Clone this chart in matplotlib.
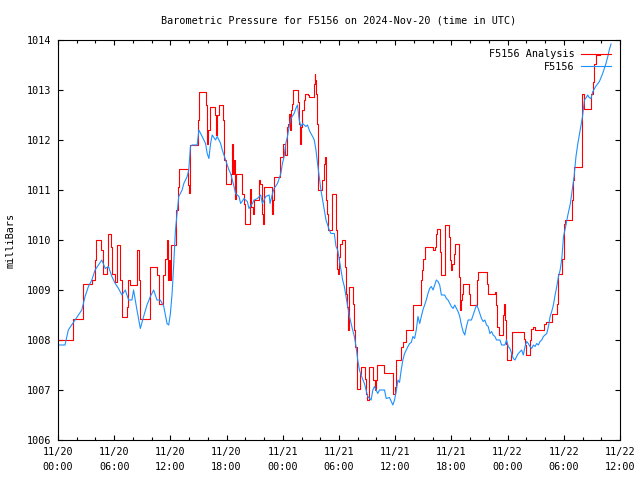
import numpy as np
import matplotlib
matplotlib.use("Agg")
import matplotlib.pyplot as plt
from matplotlib.ticker import MultipleLocator

# F5156 station readings (hours since 2024-11-20 00:00 UTC, millibars)
station_hours = [
    0.0, 0.75, 1.1, 1.82, 2.54, 2.89, 3.25, 3.61, 3.96, 4.32, 4.68, 5.04, 5.39, 5.75,
    6.11, 6.46, 6.82, 7.18, 7.54, 7.89, 8.07, 8.43, 8.79, 9.14, 9.5, 9.86, 10.21, 10.57,
    10.93, 11.29, 11.64, 11.82, 12.0, 12.18, 12.36, 12.54, 12.71, 12.89, 13.25, 13.43,
    13.79, 13.96, 14.14, 14.32, 14.86, 15.04, 15.39, 15.75, 15.93, 16.11, 16.29, 16.46,
    16.82, 17.0, 17.36, 17.54, 17.89, 18.25, 18.43, 18.79, 18.96, 19.32, 19.5, 19.86,
    20.21, 20.39, 20.75, 20.93, 21.29, 21.64, 21.82, 22.18, 22.54, 22.64, 22.9, 23.07,
    23.43, 23.79, 23.96, 24.14, 24.32, 24.5, 24.68, 24.86, 25.21, 25.39, 25.57, 25.75,
    25.93, 26.11, 26.46, 26.64, 26.82, 27.0, 27.18, 27.36, 27.54, 27.71, 27.89, 28.07,
    28.25, 28.43, 28.61, 28.96, 29.14, 29.5, 29.68, 29.86, 30.04, 30.21, 30.39, 30.57,
    30.75, 30.93, 31.11, 31.29, 31.46, 31.64, 31.82, 32.0, 32.18, 32.36, 32.71, 32.89,
    33.07, 33.43, 33.61, 33.79, 34.14, 34.32, 34.86, 35.04, 35.39, 35.75, 35.93, 36.11,
    36.29, 36.46, 36.64, 36.82, 37.0, 37.18, 37.36, 37.54, 37.71, 37.89, 38.07, 38.25,
    38.43, 38.61, 38.79, 38.96, 39.14, 39.32, 39.5, 39.68, 39.86, 40.04, 40.21, 40.39,
    40.57, 40.75, 40.93, 41.29, 41.46, 41.64, 42.0, 42.18, 42.36, 42.54, 42.71, 42.89,
    43.07, 43.25, 43.43, 43.61, 43.79, 44.14, 44.32, 44.5, 44.68, 44.86, 45.04, 45.21,
    45.39, 45.57, 45.75, 45.93, 46.11, 46.29, 46.46, 46.64, 46.82, 47.18, 47.36, 47.71,
    47.89, 48.07, 48.25, 48.43, 48.61, 48.79, 48.96, 49.14, 49.5, 49.68, 49.86, 50.04,
    50.21, 50.39, 50.57, 50.75, 50.93, 51.11, 51.29, 51.46, 51.64, 51.82, 52.0, 52.18,
    52.36, 52.54, 52.71, 52.89, 53.07, 53.25, 53.43, 53.61, 53.79, 53.97, 54.2, 54.4,
    54.7, 54.9, 55.1, 55.3, 55.5, 55.75, 56.0, 56.2, 56.4, 56.55, 56.7, 56.9, 57.1,
    57.4, 57.8, 58.15, 58.5, 58.7, 58.85, 59.04,
]
station_mbar = [
    1007.9, 1007.9, 1008.2, 1008.4, 1008.6, 1008.87, 1009.07, 1009.2, 1009.4, 1009.5, 1009.6, 1009.43, 1009.47, 1009.27,
    1009.13, 1009.03, 1008.9, 1009.0, 1008.8, 1008.8, 1009.0, 1008.6, 1008.23, 1008.47, 1008.7, 1008.87, 1009.0, 1008.8,
    1008.8, 1008.67, 1008.33, 1008.3, 1008.53, 1008.93, 1009.53, 1010.2, 1010.53, 1010.87, 1011.0, 1011.13,
    1011.27, 1011.4, 1011.87, 1011.9, 1011.9, 1012.2, 1012.07, 1011.93, 1011.73, 1011.63, 1011.93, 1012.1,
    1012.0, 1012.07, 1011.93, 1011.8, 1011.6, 1011.4, 1011.33, 1011.07, 1010.93, 1010.87, 1010.73, 1010.83,
    1010.77, 1010.63, 1010.73, 1010.8, 1010.83, 1010.9, 1010.73, 1010.87, 1010.9, 1010.73, 1010.93, 1011.03,
    1011.13, 1011.33, 1011.53, 1011.67, 1011.93, 1012.07, 1012.27, 1012.43, 1012.53, 1012.63, 1012.7, 1012.4,
    1012.27, 1012.33, 1012.27, 1012.3, 1012.2, 1012.13, 1012.07, 1012.0, 1011.8, 1011.53, 1011.27, 1011.0,
    1010.8, 1010.6, 1010.4, 1010.2, 1010.13, 1010.13, 1009.87, 1009.8, 1009.6, 1009.4, 1009.2, 1009.07,
    1008.87, 1008.67, 1008.47, 1008.33, 1008.2, 1008.07, 1007.87, 1007.6, 1007.4, 1007.3, 1007.13, 1007.0,
    1006.87, 1006.8, 1007.0, 1007.07, 1006.93, 1007.0, 1007.0, 1006.83, 1006.85, 1006.7, 1006.8, 1006.97,
    1007.2, 1007.15, 1007.4, 1007.6, 1007.73, 1007.8, 1007.87, 1007.93, 1007.95, 1008.07, 1008.03, 1008.2,
    1008.47, 1008.33, 1008.47, 1008.6, 1008.7, 1008.8, 1008.93, 1009.03, 1009.07, 1009.0, 1009.1, 1009.2,
    1009.17, 1009.1, 1008.9, 1008.9, 1008.83, 1008.8, 1008.67, 1008.63, 1008.7, 1008.63, 1008.57, 1008.47,
    1008.3, 1008.17, 1008.1, 1008.27, 1008.4, 1008.4, 1008.5, 1008.6, 1008.7, 1008.63, 1008.53, 1008.43,
    1008.37, 1008.4, 1008.3, 1008.27, 1008.13, 1008.17, 1008.1, 1008.07, 1008.0, 1008.0, 1007.9, 1007.9,
    1008.0, 1007.87, 1007.83, 1007.73, 1007.63, 1007.6, 1007.67, 1007.73, 1007.8, 1007.7, 1007.87, 1007.97,
    1007.93, 1007.87, 1007.83, 1007.9, 1007.87, 1007.93, 1007.9, 1007.97, 1008.0, 1008.07, 1008.1, 1008.13,
    1008.27, 1008.47, 1008.57, 1008.7, 1008.9, 1009.07, 1009.27, 1009.4, 1009.63, 1010.07, 1010.27, 1010.47,
    1010.73, 1011.0, 1011.27, 1011.67, 1011.93, 1012.2, 1012.47, 1012.8, 1012.85, 1012.9, 1012.85, 1012.83, 1012.97,
    1013.07, 1013.17, 1013.33, 1013.53, 1013.67, 1013.8, 1013.92,
]

# analysis values (step changes)
analysis_hours = [
    0.0, 1.64, 2.71, 3.6, 3.96, 4.06, 4.6, 4.78, 5.2, 5.31, 5.63, 5.74, 6.1, 6.27, 6.63, 6.81,
    7.35, 7.52, 7.7, 8.48, 8.66, 8.77, 9.77, 10.55, 10.73, 11.2, 11.44, 11.62, 11.73, 11.84,
    11.98, 12.09, 12.59, 12.76, 12.87, 13.83, 13.94, 14.05, 14.94, 15.08, 15.79, 15.93, 16.04,
    16.18, 16.76, 16.86, 17.0, 17.15, 17.6, 17.75, 17.9, 18.47, 18.57, 18.68, 18.75, 18.93,
    19.04, 19.64, 19.82, 19.93, 20.53, 20.64, 20.78, 20.89, 21.43, 21.6, 21.79, 21.89, 21.96,
    22.86, 22.96, 23.1, 23.74, 24.03, 24.28, 24.46, 24.56, 24.71, 24.81, 24.92, 24.99, 25.1,
    25.64, 25.78, 25.88, 25.99, 26.06, 26.24, 26.42, 26.67, 26.77, 27.31, 27.42, 27.49, 27.56,
    27.67, 27.77, 28.2, 28.38, 28.48, 28.59, 28.66, 28.74, 28.81, 29.3, 29.66, 29.8, 29.91,
    30.02, 30.16, 30.27, 30.66, 30.77, 30.87, 30.98, 31.05, 31.48, 31.58, 31.76, 31.87, 31.95,
    32.23, 32.3, 32.73, 32.83, 33.01, 33.19, 33.66, 33.83, 33.94, 34.08, 34.79, 35.76, 35.94,
    36.08, 36.65, 36.86, 37.11, 37.9, 38.72, 38.79, 38.9, 39.0, 39.18, 40.07, 40.25, 40.32,
    40.43, 40.79, 40.86, 41.28, 41.79, 41.86, 41.93, 42.1, 42.28, 42.39, 42.82, 42.89, 42.99,
    43.1, 43.21, 43.89, 43.96, 44.71, 44.78, 44.89, 45.85, 45.96, 46.66, 46.81, 46.92, 47.03,
    47.52, 47.63, 47.73, 47.81, 47.91, 48.34, 48.45, 48.52, 49.77, 49.84, 49.95, 50.34, 50.48,
    50.66, 50.94, 51.9, 52.09, 52.7, 53.23, 53.4, 53.76, 53.97, 54.1, 54.83, 54.94, 55.04,
    55.93, 56.18, 56.9, 57.08, 57.25, 57.43, 57.86,
]
analysis_mbar = [
    1008.0, 1008.43, 1009.13, 1009.2, 1009.6, 1010.0, 1009.8, 1009.33, 1009.47, 1010.13, 1009.87, 1009.33, 1009.17, 1009.9, 1009.2, 1008.47,
    1008.67, 1009.2, 1009.1, 1009.8, 1009.2, 1008.43, 1009.47, 1009.3, 1008.73, 1009.3, 1009.63, 1010.0, 1009.2, 1009.6,
    1009.2, 1009.9, 1010.6, 1011.07, 1011.43, 1011.1, 1010.95, 1011.9, 1012.4, 1012.97, 1012.7, 1011.93, 1012.2,
    1012.67, 1012.5, 1012.1, 1012.5, 1012.7, 1012.4, 1011.6, 1011.13, 1011.33, 1011.93, 1011.33, 1011.6, 1010.83,
    1011.33, 1010.93, 1010.73, 1010.33, 1011.03, 1010.67, 1010.53, 1010.8, 1011.2, 1011.13, 1010.53, 1010.33, 1011.07,
    1010.53, 1010.8, 1011.27, 1011.67, 1011.93, 1011.7, 1012.27, 1012.33, 1012.53, 1012.2, 1012.6, 1012.73, 1013.0,
    1012.77, 1012.33, 1011.93, 1012.27, 1012.6, 1012.8, 1012.93, 1012.9, 1012.87, 1013.13, 1013.33, 1013.2, 1012.93,
    1012.33, 1011.0, 1011.2, 1011.53, 1011.67, 1011.33, 1010.8, 1010.53, 1010.2, 1010.93, 1010.2, 1009.43, 1009.33,
    1009.67, 1009.93, 1010.0, 1009.47, 1008.93, 1008.67, 1008.2, 1009.07, 1008.73, 1008.2, 1007.87, 1007.4, 1007.03,
    1007.33, 1007.47, 1007.23, 1006.93, 1006.8, 1007.47, 1007.2, 1007.0, 1007.2, 1007.5, 1007.35, 1006.93, 1007.07,
    1007.6, 1007.87, 1007.97, 1008.2, 1008.7, 1008.77, 1009.2, 1009.4, 1009.63, 1009.87, 1009.8, 1009.87, 1010.13,
    1010.23, 1009.77, 1009.3, 1010.3, 1010.07, 1009.6, 1009.4, 1009.53, 1009.73, 1009.93, 1009.27, 1008.6, 1008.8,
    1008.93, 1009.13, 1008.93, 1008.7, 1009.0, 1009.2, 1009.37, 1009.13, 1008.93, 1008.97, 1008.7, 1008.27, 1008.1,
    1008.5, 1008.73, 1008.4, 1007.93, 1007.6, 1007.73, 1007.8, 1008.17, 1008.03, 1007.9, 1007.7, 1008.0, 1008.23,
    1008.27, 1008.2, 1008.33, 1008.37, 1008.53, 1008.73, 1009.33, 1009.63, 1010.33, 1010.4, 1010.8, 1011.2, 1011.47,
    1012.93, 1012.62, 1012.93, 1013.17, 1013.53, 1013.7, 1013.7,
]

tick_hours = [0, 6, 12, 18, 24, 30, 36, 42, 48, 54, 60]
tick_labels = ["11/20\n00:00", "11/20\n06:00", "11/20\n12:00", "11/20\n18:00",
               "11/21\n00:00", "11/21\n06:00", "11/21\n12:00", "11/21\n18:00",
               "11/22\n00:00", "11/22\n06:00", "11/22\n12:00"]

plt.rcParams['font.family'] = ['DejaVu Sans Mono']
fs = 7.3

fig = plt.figure(figsize=(6.4, 4.8), dpi=100)
ax = fig.add_axes([58 / 640, 40 / 480, 562 / 640, 400 / 480])

ax.plot(analysis_hours, analysis_mbar, color='#ff0000', lw=0.8,
        drawstyle='steps-post', label='F5156 Analysis')
ax.plot(station_hours, station_mbar, color='#1e90ff', lw=0.8, label='F5156')

ax.set_xlim(0, 60)
ax.set_ylim(1006, 1014)
ax.set_xticks(tick_hours)
ax.set_xticklabels(tick_labels, fontsize=fs, linespacing=1.6)
ax.xaxis.set_minor_locator(MultipleLocator(2))
ax.yaxis.set_major_locator(MultipleLocator(1))
ax.tick_params(axis='y', labelsize=fs)
ax.tick_params(which='major', direction='in', top=True, right=True,
               length=3.5, width=0.8, pad=5)
ax.tick_params(which='minor', direction='in', top=True, right=False,
               length=2, width=0.8)
ax.tick_params(axis='y', which='minor', left=False, right=False)
for s in ax.spines.values():
    s.set_linewidth(0.8)

ax.set_ylabel('milliBars', fontsize=fs, labelpad=8)
ax.set_title('Barometric Pressure for F5156 on 2024-Nov-20 (time in UTC)',
             fontsize=fs, pad=12)

ax.legend(loc='upper right', frameon=False, markerfirst=False, fontsize=fs,
          handlelength=2.9, handletextpad=0.7, labelspacing=0.25,
          borderaxespad=0.6, borderpad=0.3)

fig.savefig('out.png', dpi=100)
